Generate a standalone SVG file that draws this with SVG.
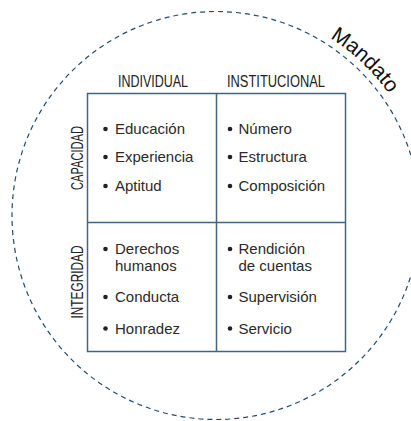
<svg xmlns="http://www.w3.org/2000/svg" width="411" height="421" viewBox="0 0 411 421">
  <defs>
    <style>
      .ring { fill: none; stroke: #1f4d70; stroke-width: 1.2; stroke-dasharray: 5 4; }
      .cell { fill: none; stroke: #45647e; stroke-width: 1.5; }
      .head { font-family: "Liberation Sans", Arial, sans-serif; font-size: 16px; fill: #222; }
      .item { font-family: "Liberation Sans", Arial, sans-serif; font-size: 15px; fill: #2a2a2a; }
      .dot { fill: #222; }
      .mandate { font-family: "Liberation Sans", Arial, sans-serif; font-size: 21px; fill: #111; }
    </style>
    <path id="mandatePath" d="M 330 37.9 A 211 211 0 0 1 405 120"/>
  </defs>

  <rect width="411" height="421" fill="#ffffff"/>

  <!-- Dashed mandate ring -->
  <g id="mandate-ring">
    <circle class="ring" cx="216" cy="215.5" r="204"/>
    <text class="mandate"><textPath href="#mandatePath">Mandato</textPath></text>
  </g>

  <!-- 2x2 grid -->
  <g id="grid">
    <rect class="cell" x="87.5" y="93.5" width="258" height="258"/>
    <line class="cell" x1="216.5" y1="93.5" x2="216.5" y2="351.5"/>
    <line class="cell" x1="87.5" y1="222.5" x2="345.5" y2="222.5"/>
  </g>

  <!-- Column and row headings -->
  <g id="headings">
    <text class="head" x="118" y="87" textLength="70" lengthAdjust="spacingAndGlyphs">INDIVIDUAL</text>
    <text class="head" x="227" y="87" textLength="98" lengthAdjust="spacingAndGlyphs">INSTITUCIONAL</text>
    <text class="head" transform="translate(82.5 158) rotate(-90)" text-anchor="middle" textLength="64" lengthAdjust="spacingAndGlyphs">CAPACIDAD</text>
    <text class="head" transform="translate(82.5 282) rotate(-90)" text-anchor="middle" textLength="73" lengthAdjust="spacingAndGlyphs">INTEGRIDAD</text>
  </g>

  <!-- Individual capacity -->
  <g id="cell-individual-capacity">
    <circle class="dot" cx="105.5" cy="129" r="2.3"/>
    <text class="item" x="115" y="134">Educación</text>
    <circle class="dot" cx="105.5" cy="157" r="2.3"/>
    <text class="item" x="115" y="162">Experiencia</text>
    <circle class="dot" cx="105.5" cy="186" r="2.3"/>
    <text class="item" x="115" y="191">Aptitud</text>
  </g>

  <!-- Institutional capacity -->
  <g id="cell-institutional-capacity">
    <circle class="dot" cx="230" cy="129" r="2.3"/>
    <text class="item" x="238.5" y="134">Número</text>
    <circle class="dot" cx="230" cy="157" r="2.3"/>
    <text class="item" x="238.5" y="162">Estructura</text>
    <circle class="dot" cx="230" cy="186" r="2.3"/>
    <text class="item" x="238.5" y="191">Composición</text>
  </g>

  <!-- Individual integrity -->
  <g id="cell-individual-integrity">
    <circle class="dot" cx="105.5" cy="249" r="2.3"/>
    <text class="item" x="115" y="254">Derechos</text>
    <text class="item" x="115" y="271">humanos</text>
    <circle class="dot" cx="105.5" cy="297" r="2.3"/>
    <text class="item" x="115" y="302">Conducta</text>
    <circle class="dot" cx="105.5" cy="328.5" r="2.3"/>
    <text class="item" x="115" y="333.5">Honradez</text>
  </g>

  <!-- Institutional integrity -->
  <g id="cell-institutional-integrity">
    <circle class="dot" cx="230" cy="249" r="2.3"/>
    <text class="item" x="238.5" y="254">Rendición</text>
    <text class="item" x="238.5" y="271">de cuentas</text>
    <circle class="dot" cx="230" cy="297" r="2.3"/>
    <text class="item" x="238.5" y="302">Supervisión</text>
    <circle class="dot" cx="230" cy="328.5" r="2.3"/>
    <text class="item" x="238.5" y="333.5">Servicio</text>
  </g>
</svg>
